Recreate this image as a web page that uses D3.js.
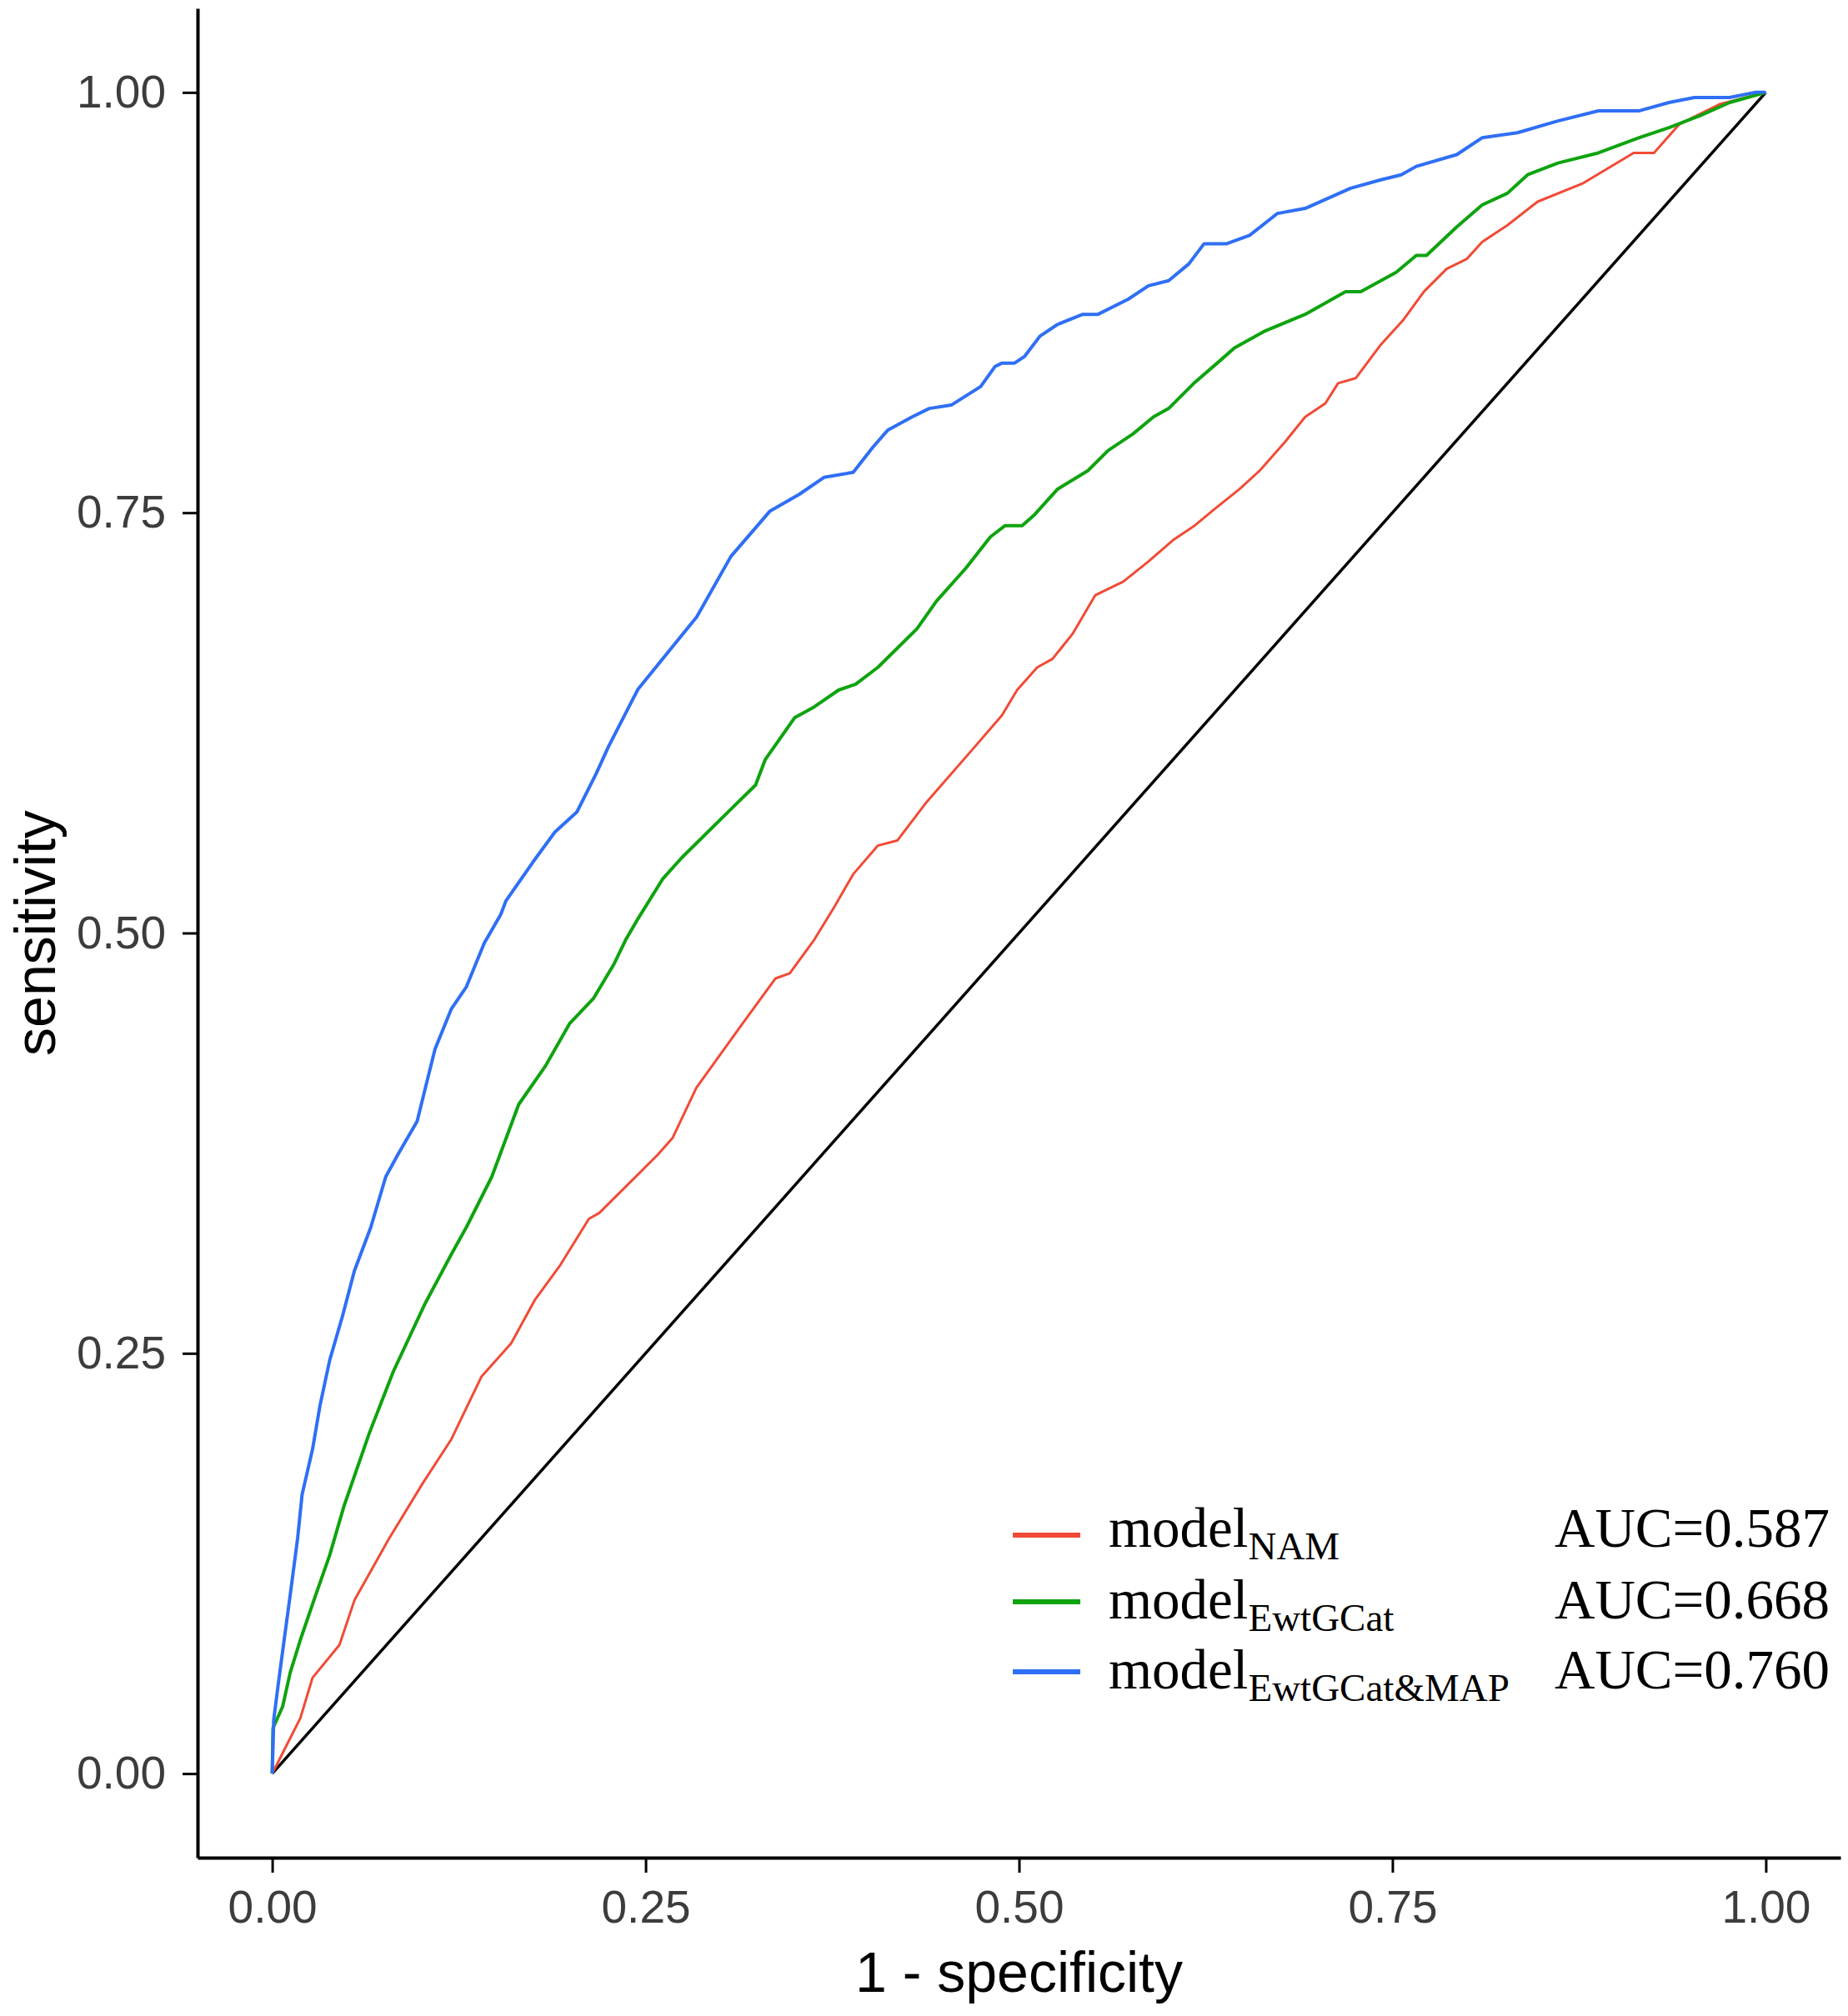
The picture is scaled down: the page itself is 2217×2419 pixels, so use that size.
<!DOCTYPE html>
<html>
<head>
<meta charset="utf-8">
<script src="https://cdn.jsdelivr.net/npm/d3@7"></script>
<style>
  body { margin: 0; background: #fff; }
  svg { display: block; }
</style>
</head>
<body>
<div id="chart"></div>
<script>
'use strict';

// ROC points: [1 - specificity, sensitivity]
var namPoints = [
  [0,0],[0.0057,0.010],[0.0188,0.033],[0.027,0.057],[0.045,0.0765],[0.055,0.103],
  [0.078,0.1395],[0.101,0.173],[0.120,0.199],[0.140,0.236],[0.160,0.256],[0.176,0.282],
  [0.1925,0.302],[0.212,0.330],[0.219,0.3335],[0.258,0.368],[0.268,0.378],[0.284,0.408],
  [0.314,0.445],[0.337,0.473],[0.3465,0.476],[0.3629,0.496],[0.376,0.515],[0.389,0.535],
  [0.4055,0.552],[0.4185,0.555],[0.4382,0.578],[0.4677,0.608],[0.4886,0.6295],[0.4987,0.6445],
  [0.5122,0.658],[0.5224,0.663],[0.5359,0.678],[0.5511,0.701],[0.5698,0.709],[0.5867,0.721],
  [0.6036,0.734],[0.6171,0.742],[0.6307,0.752],[0.6476,0.764],[0.6611,0.775],[0.678,0.792],
  [0.6916,0.807],[0.7051,0.815],[0.7136,0.827],[0.7254,0.830],[0.7423,0.850],[0.7576,0.865],
  [0.7711,0.8815],[0.7863,0.895],[0.7999,0.901],[0.810,0.911],[0.827,0.921],[0.8472,0.935],
  [0.8777,0.946],[0.9115,0.964],[0.9251,0.964],[0.942,0.981],[0.9691,0.993],[1,1]
];

var ewtPoints = [
  [0,0],[0.0005,0.027],[0.007,0.040],[0.012,0.060],[0.019,0.080],[0.029,0.106],
  [0.0385,0.130],[0.048,0.159],[0.065,0.2025],[0.081,0.239],[0.102,0.279],[0.120,0.309],
  [0.130,0.325],[0.147,0.355],[0.165,0.398],[0.183,0.421],[0.199,0.446],[0.215,0.461],
  [0.2285,0.481],[0.2367,0.496],[0.2449,0.5085],[0.2613,0.532],[0.2744,0.545],[0.3104,0.5765],
  [0.3236,0.588],[0.330,0.603],[0.3497,0.628],[0.3629,0.6345],[0.3792,0.6445],[0.3907,0.648],
  [0.4055,0.658],[0.4317,0.681],[0.4448,0.6975],[0.4644,0.717],[0.4808,0.7356],[0.4907,0.7423],
  [0.5021,0.7423],[0.5106,0.749],[0.5258,0.764],[0.5461,0.775],[0.5596,0.787],[0.5765,0.797],
  [0.59,0.807],[0.6002,0.812],[0.6171,0.827],[0.634,0.840],[0.6442,0.848],[0.6645,0.858],
  [0.6916,0.868],[0.7186,0.8815],[0.7288,0.8815],[0.7525,0.893],[0.766,0.903],[0.7728,0.903],
  [0.7931,0.920],[0.810,0.933],[0.827,0.940],[0.8405,0.951],[0.8608,0.958],[0.8879,0.964],
  [0.9149,0.973],[0.9352,0.979],[0.9555,0.986],[0.9758,0.994],[1,1]
];

var mapPoints = [
  [0,0],[0.001,0.032],[0.004,0.053],[0.007,0.073],[0.012,0.106],[0.017,0.140],
  [0.020,0.166],[0.027,0.193],[0.032,0.219],[0.0385,0.246],[0.047,0.272],[0.055,0.299],
  [0.066,0.325],[0.076,0.355],[0.084,0.368],[0.097,0.388],[0.109,0.431],[0.120,0.455],
  [0.130,0.468],[0.142,0.494],[0.153,0.511],[0.1564,0.519],[0.1744,0.542],[0.1892,0.560],
  [0.204,0.572],[0.217,0.595],[0.2252,0.611],[0.2449,0.645],[0.2613,0.663],[0.2842,0.688],
  [0.3071,0.724],[0.3236,0.741],[0.3333,0.751],[0.353,0.761],[0.3694,0.771],[0.389,0.774],
  [0.4022,0.789],[0.412,0.799],[0.4284,0.807],[0.4399,0.812],[0.4546,0.814],[0.4743,0.825],
  [0.484,0.837],[0.4886,0.839],[0.497,0.839],[0.5038,0.843],[0.514,0.855],[0.5258,0.862],
  [0.5427,0.868],[0.5529,0.868],[0.5731,0.877],[0.5867,0.885],[0.6002,0.888],[0.6137,0.898],
  [0.6239,0.910],[0.6391,0.910],[0.6544,0.915],[0.673,0.928],[0.6916,0.931],[0.722,0.943],
  [0.7423,0.948],[0.7559,0.951],[0.766,0.956],[0.7931,0.963],[0.810,0.973],[0.8337,0.976],
  [0.8608,0.983],[0.8879,0.989],[0.9149,0.989],[0.9352,0.994],[0.9522,0.997],[0.9758,0.997],
  [0.9927,1],[1,1]
];

var refPoints = [[0,0],[1,1]];

var modelNames = ['model', 'model', 'model'];
var modelSubs = ['NAM', 'EwtGCat', 'EwtGCat&MAP'];
var aucLabels = ['AUC=0.587', 'AUC=0.668', 'AUC=0.760'];
var xTicks = [0, 0.25, 0.5, 0.75, 1];
var yTicks = [0, 0.25, 0.5, 0.75, 1];

var config = {
  width: 2217,
  height: 2419,
  panel: { left: 237, right: 2208, top: 10, bottom: 2229 },
  colors: ['#F04B36', '#0FA30F', '#2F6FF5'],
  widths: [3, 4, 4],
  sansFont: '"Liberation Sans", Arial, Helvetica, sans-serif',
  serifFont: '"Liberation Serif", "Times New Roman", Times, serif'
};

var svg = d3.select('#chart').append('svg')
    .attr('width', config.width)
    .attr('height', config.height);

var x = d3.scaleLinear()
    .domain([-0.05, 1.05])
    .range([config.panel.left, config.panel.right]);

var y = d3.scaleLinear()
    .domain([-0.05, 1.05])
    .range([config.panel.bottom, config.panel.top]);

var line = d3.line()
    .x(function(d) { return x(d[0]); })
    .y(function(d) { return y(d[1]); });

// diagonal reference line
svg.append('path')
    .datum(refPoints)
    .attr('d', line)
    .attr('fill', 'none')
    .attr('stroke', '#000')
    .attr('stroke-width', 3.5);

var series = [namPoints, ewtPoints, mapPoints];

svg.selectAll('path.roc').data(series).enter()
    .append('path')
    .attr('class', 'roc')
    .attr('d', line)
    .attr('fill', 'none')
    .attr('stroke', function(d, i) { return config.colors[i]; })
    .attr('stroke-width', function(d, i) { return config.widths[i]; })
    .attr('stroke-linejoin', 'round');

// axes
var xAxis = svg.append('g')
    .attr('transform', 'translate(0,' + config.panel.bottom + ')')
    .call(d3.axisBottom(x)
      .tickValues(xTicks)
      .tickFormat(d3.format('.2f'))
      .tickSize(18)
      .tickSizeOuter(0)
      .tickPadding(21));

var yAxis = svg.append('g')
    .attr('transform', 'translate(' + config.panel.left + ',0)')
    .call(d3.axisLeft(y)
      .tickValues(yTicks)
      .tickFormat(d3.format('.2f'))
      .tickSize(18)
      .tickSizeOuter(0)
      .tickPadding(20));

[xAxis, yAxis].forEach(function(ax) {
  ax.select('.domain').attr('stroke', '#000').attr('stroke-width', 4);
  ax.selectAll('.tick line').attr('stroke', '#000').attr('stroke-width', 3);
  ax.selectAll('.tick text')
      .attr('fill', '#3c3c3c')
      .style('font-family', config.sansFont)
      .style('font-size', '55px');
});

// axis titles
svg.append('text')
    .attr('x', (config.panel.left + config.panel.right) / 2)
    .attr('y', 2390)
    .attr('text-anchor', 'middle')
    .style('font-family', config.sansFont)
    .style('font-size', '68px')
    .attr('fill', '#000')
    .text('1 - specificity');

svg.append('text')
    .attr('transform', 'translate(66,' + (config.panel.top + config.panel.bottom) / 2 + ') rotate(-90)')
    .attr('text-anchor', 'middle')
    .style('font-family', config.sansFont)
    .style('font-size', '68px')
    .attr('fill', '#000')
    .text('sensitivity');

// legend
var legendKeyY = [1842, 1922, 2006];
var legendBaseY = [1856, 1942, 2026];

var legend = svg.append('g').attr('class', 'legend');

legend.selectAll('line').data(modelSubs).enter()
    .append('line')
    .attr('x1', 1215)
    .attr('x2', 1296)
    .attr('y1', function(d, i) { return legendKeyY[i]; })
    .attr('y2', function(d, i) { return legendKeyY[i]; })
    .attr('stroke', function(d, i) { return config.colors[i]; })
    .attr('stroke-width', 6);

var labels = legend.selectAll('text.name').data(modelSubs).enter()
    .append('text')
    .attr('class', 'name')
    .attr('x', 1330)
    .attr('y', function(d, i) { return legendBaseY[i]; })
    .style('font-family', config.serifFont)
    .style('font-size', '67px')
    .attr('fill', '#000');

labels.append('tspan').text(function(d, i) { return modelNames[i]; });
labels.append('tspan')
    .attr('dy', 15)
    .style('font-size', '47px')
    .text(function(d) { return d; });

legend.selectAll('text.auc').data(aucLabels).enter()
    .append('text')
    .attr('class', 'auc')
    .attr('x', 1865)
    .attr('y', function(d, i) { return legendBaseY[i]; })
    .style('font-family', config.serifFont)
    .style('font-size', '67px')
    .attr('fill', '#000')
    .text(function(d) { return d; });
</script>
</body>
</html>
